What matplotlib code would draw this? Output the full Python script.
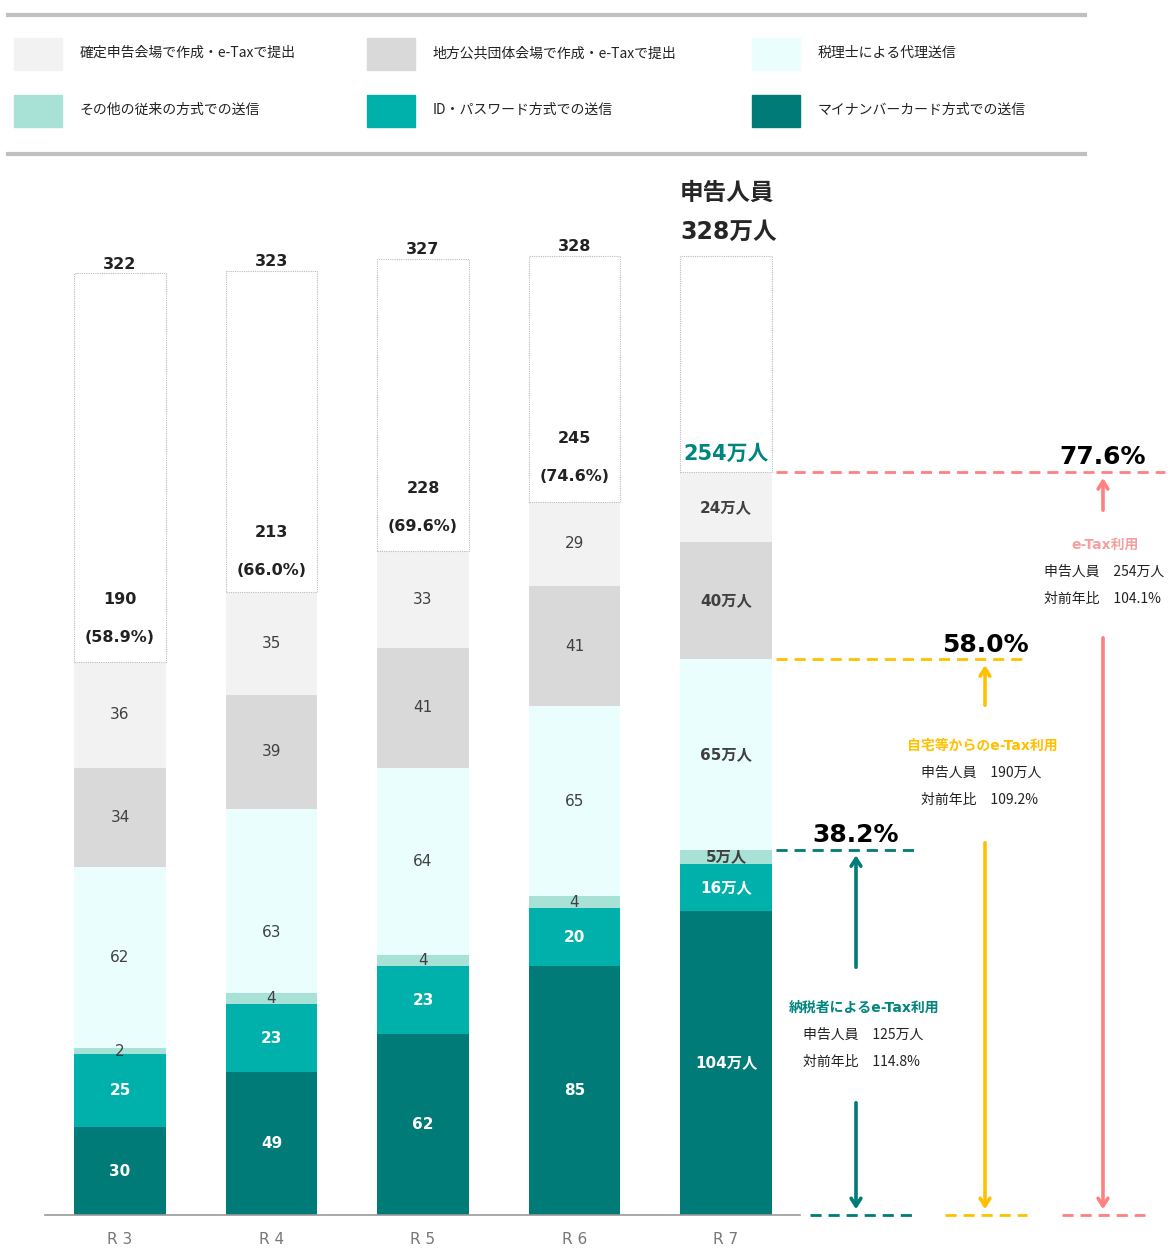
import matplotlib
matplotlib.use("Agg")
import matplotlib.pyplot as plt
from matplotlib.patches import Rectangle

plt.rcParams['font.family'] = ['DejaVu Sans', 'Noto Sans CJK JP']
CJK = ['Noto Sans CJK JP', 'DejaVu Sans']

# data (万人)
cats = ['R 3', 'R 4', 'R 5', 'R 6', 'R 7']
mynumber = [30, 49, 62, 85, 104]
idpw = [25, 23, 23, 20, 16]
other = [2, 4, 4, 4, 5]
zeirishi = [62, 63, 64, 65, 65]
chiho = [34, 39, 41, 41, 40]
kakutei = [36, 35, 33, 29, 24]
total = [322, 323, 327, 328, 328]
etax = [190, 213, 228, 245, 254]
etax_pct = ['58.9', '66.0', '69.6', '74.6', '77.6']

series = [mynumber, idpw, other, zeirishi, chiho, kakutei]
colors = ['#007B77', '#00B0AA', '#A8E2D6', '#EAFFFD', '#D9D9D9', '#F2F2F2']
names = ['マイナンバーカード方式での送信', 'ID・パスワード方式での送信', 'その他の従来の方式での送信',
         '税理士による代理送信', '地方公共団体会場で作成・e-Taxで提出', '確定申告会場で作成・e-Taxで提出']
dark = [True, True, False, False, False, False]

W, H = 1168, 1249
fig = plt.figure(figsize=(W / 100, H / 100), dpi=100)
ax = fig.add_axes([0, 0, 1, 1])
step, x0, base, k = 151.5, 120, 1215, 2.924
ax.set_xlim(-x0 / step, (W - x0) / step)
ax.set_ylim(-(H - base) / k, base / k)
ax.axis('off')


def X(px):
    return (px - x0) / step


def Y(py):
    return (base - py) / k


bw = 0.607
xs = list(range(len(cats)))
bottoms = [0] * len(cats)
for s, c, d in zip(series, colors, dark):
    ax.bar(xs, s, bw, bottom=bottoms, color=c, edgecolor='none', zorder=2)
    for i in xs:
        col = 'white' if d else '#404040'
        if i == 4:
            txt, wt = f'{s[i]}万人', 'bold'
        else:
            txt, wt = str(s[i]), ('bold' if d else 'normal')
        yy = bottoms[i] + s[i] / 2
        if s is zeirishi and i == 1:
            yy -= 11
        ax.text(i, yy, txt, ha='center', va='center',
                color=col, fontsize=11, fontweight=wt, zorder=3)
    bottoms = [b + v for b, v in zip(bottoms, s)]

# white remainder with dotted border
rest = [t - b for t, b in zip(total, bottoms)]
ax.bar(xs, rest, bw, bottom=bottoms, color='white', edgecolor='#BBBBBB',
       linestyle=(0, (1, 1)), linewidth=0.8, zorder=2)

for i in xs[:4]:
    ax.text(i, total[i] + 0.5, str(total[i]), ha='center', va='bottom',
            fontsize=11.5, fontweight='bold', color='#222222')
    ax.text(i, etax[i] + 20.5, str(etax[i]), ha='center', va='center',
            fontsize=11.5, fontweight='bold', color='#222222')
    ax.text(i, etax[i] + 7.5, f'({etax_pct[i]}%)', ha='center', va='center',
            fontsize=11.5, fontweight='bold', color='#222222')

ax.text(X(680), Y(193), '申告人員', ha='left', va='center', fontsize=17,
        fontweight='bold', color='#262626', family=CJK)
ax.text(X(680), Y(232), f'{total[4]}万人', ha='left', va='center', fontsize=17,
        fontweight='bold', color='#262626')
ax.text(4, etax[4] + 3, f'{etax[4]}万人', ha='center', va='bottom', fontsize=15,
        fontweight='bold', color='#00857F')

# baseline and categories
ax.plot([X(45), X(800)], [0, 0], color='#999999', lw=1.2, zorder=4)
for i, c in enumerate(cats):
    ax.text(i, Y(1240), c, ha='center', va='center', fontsize=11, color='#777777')

# right annotations
lvl_team = mynumber[4] + idpw[4] + other[4]
lvl_home = lvl_team + zeirishi[4]
lvl_all = etax[4]
specs = [
    ('#007B77', lvl_team, 776, 916, 810, 912, 856, '38.2%', 970, 1100,
     '納税者によるe-Tax利用', 864, 1008, 803, '125万人', '114.8%'),
    ('#FFC000', lvl_home, 776, 1027, 945, 1027, 985, '58.0%', 708, 840,
     '自宅等からのe-Tax利用', 982, 746, 921, '190万人', '109.2%'),
    ('#FF8080', lvl_all, 776, 1165, 1062, 1145, 1103, '77.6%', 513, 635,
     'e-Tax利用', 1105, 545, 1044, '254万人', '104.1%'),
]
titlecol = {'#007B77': '#00857F', '#FFC000': '#FFC000', '#FF8080': '#F5A0A0'}
for col, lvl, l1, l2, b1, b2, ax_x, pct, up_from, down_from, ttl, tx, ty, lx, ppl, ratio in specs:
    ax.plot([X(l1), X(l2)], [lvl, lvl], color=col, lw=2, ls=(0, (4, 2.5)), zorder=4)
    ax.plot([X(b1), X(b2)], [0, 0], color=col, lw=2, ls=(0, (4, 2.5)), zorder=4)
    ax.text(X(ax_x), lvl + 1, pct, ha='center', va='bottom', fontsize=18,
            fontweight='bold', color='black')
    ax.annotate('', xy=(X(ax_x), lvl - 1), xytext=(X(ax_x), Y(up_from)),
                arrowprops=dict(arrowstyle='->,head_width=0.35,head_length=0.55',
                                color=col, lw=2.6))
    ax.annotate('', xy=(X(ax_x), 1), xytext=(X(ax_x), Y(down_from)),
                arrowprops=dict(arrowstyle='->,head_width=0.35,head_length=0.55',
                                color=col, lw=2.6))
    ax.text(X(tx), Y(ty), ttl, ha='center', va='center', fontsize=10,
            fontweight='bold', color=titlecol[col])
    ax.text(X(lx), Y(ty + 27), f'申告人員　{ppl}', ha='left', va='center',
            fontsize=10, color='#222222', family=CJK)
    ax.text(X(lx), Y(ty + 54), f'対前年比　{ratio}', ha='left', va='center',
            fontsize=10, color='#222222', family=CJK)

# legend block (pixel positions)
def fx(px):
    return px / W


def fy(py):
    return 1 - py / H


for py in (15, 154):
    fig.add_artist(plt.Line2D([fx(8), fx(1085)], [fy(py), fy(py)], color='#C0C0C0', lw=3))

legend_order = [5, 4, 3, 2, 1, 0]
cols_px = [(14, 80), (367, 433), (752, 818)]
rows_px = [(38, 70), (95, 127)]
for n, idx in enumerate(legend_order):
    r, c = divmod(n, 3)
    px, tx = cols_px[c]
    top, bot = rows_px[r]
    fig.add_artist(Rectangle((fx(px), fy(bot)), fx(48), (bot - top) / H,
                             transform=fig.transFigure, color=colors[idx]))
    fig.text(fx(tx), fy((top + bot) / 2 - 1), names[idx], ha='left', va='center',
             fontsize=10, color='#222222', family=CJK)

fig.savefig('out.png', dpi=100)
